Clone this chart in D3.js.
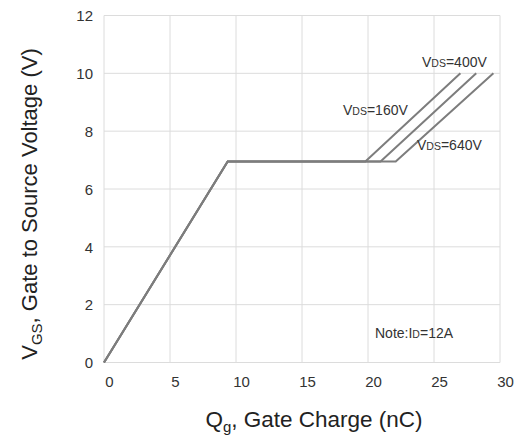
<!DOCTYPE html>
<html><head><meta charset="utf-8">
<script src="https://cdn.jsdelivr.net/npm/d3@7"></script>
<style>body{margin:0;background:#fff;} svg{display:block;font-family:"Liberation Sans",Arial,sans-serif;}</style>
</head><body>
<svg id="c" width="519" height="437"></svg>
<script>
const xTicks = [0,5,10,15,20,25,30];
const yTicks = [0,2,4,6,8,10,12];
const commonQg = [0, 9.37];
const commonVgs = [0, 6.95];
const seriesNames = ["160V","400V","640V"];
const plateauEndQg = [19.8, 20.95, 22.1];
const plateauVgs = [6.95, 6.95, 6.95];
const endQg = [27.0, 28.2, 29.5];
const endVgs = [10, 10, 10];

const svg = d3.select("#c");
const x = d3.scaleLinear().domain([0,30]).range([104,500]);
const y = d3.scaleLinear().domain([0,12]).range([362.5,15.5]);
const FONT = "Liberation Sans, Arial, sans-serif";

const grid = svg.append("g").attr("stroke","#dcdcdc").attr("stroke-width",1);
xTicks.forEach(t=>grid.append("line").attr("x1",x(t)).attr("x2",x(t)).attr("y1",y(12)).attr("y2",y(0)));
yTicks.forEach(t=>grid.append("line").attr("x1",x(0)).attr("x2",x(30)).attr("y1",y(t)).attr("y2",y(t)));

const xAxis = d3.axisBottom(x).tickValues(xTicks).tickSize(0).tickPadding(14);
svg.append("g").attr("transform",`translate(5,${y(0)})`).call(xAxis)
  .call(g=>g.select(".domain").remove())
  .selectAll("text").attr("font-size",15).attr("fill","#333").attr("font-family",FONT);
const yAxis = d3.axisLeft(y).tickValues(yTicks).tickSize(0).tickPadding(11);
svg.append("g").attr("transform",`translate(${x(0)},0.5)`).call(yAxis)
  .call(g=>g.select(".domain").remove())
  .selectAll("text").attr("font-size",15).attr("fill","#333").attr("font-family",FONT);

const line = d3.line().x(d=>x(d[0])).y(d=>y(d[1]));
seriesNames.forEach((n,i)=>{
  const pts = [[commonQg[0],commonVgs[0]],[commonQg[1],commonVgs[1]],[plateauEndQg[i],plateauVgs[i]],[endQg[i],endVgs[i]]];
  svg.append("path").datum(pts).attr("d",line).attr("fill","none").attr("stroke","#7d7d7d").attr("stroke-width",2);
});

function vdsLabel(tx,ty,val){
  const t = svg.append("text").attr("x",tx).attr("y",ty).attr("font-size",14).attr("fill","#333");
  t.append("tspan").text("V");
  t.append("tspan").attr("font-size",10.5).text("DS");
  t.append("tspan").text("="+val);
}
vdsLabel(422,67,"400V");
vdsLabel(343,115,"160V");
vdsLabel(417,150,"640V");

const note = svg.append("text").attr("x",375).attr("y",338).attr("font-size",14).attr("fill","#333");
note.append("tspan").text("Note:I");
note.append("tspan").attr("font-size",10.5).text("D");
note.append("tspan").text("=12A");

const xt = svg.append("text").attr("x",314).attr("y",427).attr("text-anchor","middle").attr("font-size",22.5).attr("fill","#222");
xt.append("tspan").text("Q");
xt.append("tspan").attr("font-size",15).attr("dy",5).text("g");
xt.append("tspan").attr("dy",-5).text(", Gate Charge (nC)");

const yt = svg.append("text").attr("transform","translate(37,204) rotate(-90)").attr("text-anchor","middle").attr("font-size",22).attr("fill","#222");
yt.append("tspan").text("V");
yt.append("tspan").attr("font-size",15).attr("dy",5).text("GS");
yt.append("tspan").attr("dy",-5).text(", Gate to Source Voltage (V)");
</script>
</body></html>
